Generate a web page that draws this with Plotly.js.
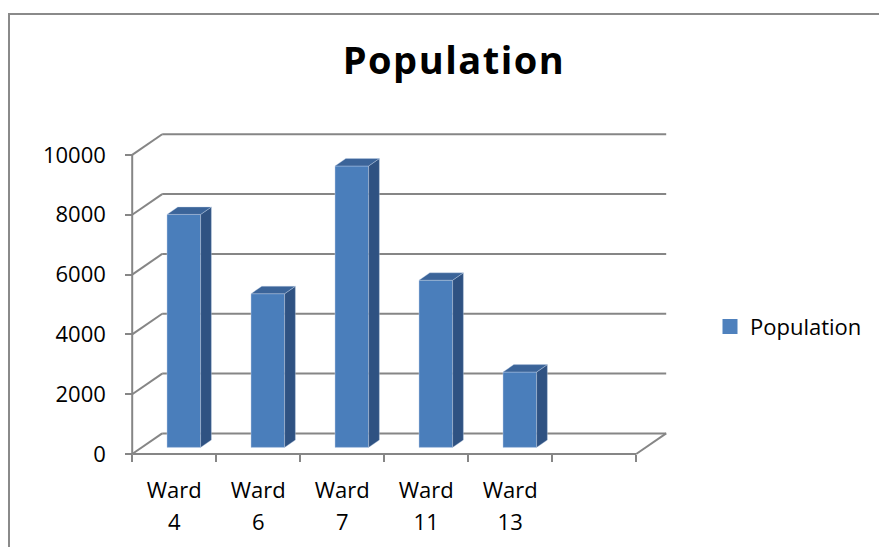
<!DOCTYPE html>
<html>
<head>
<meta charset="utf-8">
<script src="https://cdn.plot.ly/plotly-3.0.1.min.js"></script>
<style>
  html, body { margin: 0; padding: 0; background: #fff; overflow: hidden; }
  #chart { width: 879px; height: 547px; }
  #frame {
    position: absolute; left: 8px; top: 13px; width: 900px; height: 600px;
    border-left: 2px solid #8a8a8a; border-top: 2px solid #8a8a8a;
    pointer-events: none;
  }
  #chart .gtitle { letter-spacing: 1.5px; }
</style>
</head>
<body>
<div id="chart"></div>
<div id="frame"></div>
<script>
// Chart data
const categories = ['Ward 4', 'Ward 6', 'Ward 7', 'Ward 11', 'Ward 13'];
const population = [7790, 5140, 9410, 5590, 2520];
const yTicks = [0, 2000, 4000, 6000, 8000, 10000];
const seriesName = 'Population';
const slotCount = 6;            // category slots along the floor (last one empty)

// Oblique 3-D look: how far the back wall sits from the front plane (data units)
const DEPTH_X = 0.357;
const DEPTH_Y = 690;
const BAR_W = 0.4;              // column width, in category units
const BAR_FRONT = 0.32;         // depth fraction of the column front face
const BAR_DEPTH = 0.36;         // depth fraction occupied by the column

const FRONT = '#4a7ebb', SIDE = '#2f5282', TOP = '#3b6499';
const EDGE = 'rgba(196,212,234,0.75)';
const GRID = '#868686';
const FONT = 'Open Sans';

// frame of the 3-D box: back-wall gridlines, side-wall diagonals, floor and front axes
const shapes = [];
function seg(x0, y0, x1, y1) {
  shapes.push({type: 'line', xref: 'x', yref: 'y', layer: 'below',
    x0: x0, y0: y0, x1: x1, y1: y1, line: {color: GRID, width: 2}});
}
yTicks.forEach(v => {
  seg(DEPTH_X, v + DEPTH_Y, slotCount + DEPTH_X, v + DEPTH_Y);
  seg(0, v, DEPTH_X, v + DEPTH_Y);
});
const yMax = yTicks[yTicks.length - 1];
seg(0, 0, 0, yMax);
seg(0, 0, slotCount, 0);
seg(slotCount, 0, slotCount + DEPTH_X, DEPTH_Y);

// column geometry
const base = BAR_FRONT * DEPTH_Y;
const frontX = population.map((v, i) => i + 0.5 + BAR_FRONT * DEPTH_X);
const dx = BAR_DEPTH * DEPTH_X, dy = BAR_DEPTH * DEPTH_Y;

const sideX = [], sideY = [], topX = [], topY = [];
population.forEach((v, i) => {
  const xr = frontX[i] + BAR_W / 2, xl = frontX[i] - BAR_W / 2;
  const t = base + v;
  sideX.push(xr, xr + dx, xr + dx, xr, xr, null);
  sideY.push(base, base + dy, t + dy, t, base, null);
  topX.push(xl, xr, xr + dx, xl + dx, xl, null);
  topY.push(t, t, t + dy, t + dy, t, null);
});

const traces = [
  {type: 'bar', x: frontX, y: population, base: base, width: BAR_W,
   marker: {color: FRONT, line: {color: EDGE, width: 0.6}},
   showlegend: false, hoverinfo: 'skip'},
  {type: 'scatter', mode: 'lines', x: sideX, y: sideY, fill: 'toself',
   fillcolor: SIDE, line: {color: EDGE, width: 0.5}, showlegend: false, hoverinfo: 'skip'},
  {type: 'scatter', mode: 'lines', x: topX, y: topY, fill: 'toself',
   fillcolor: TOP, line: {color: EDGE, width: 0.5}, showlegend: false, hoverinfo: 'skip'},
  {type: 'scatter', mode: 'markers', x: [null], y: [null], name: seriesName,
   marker: {symbol: 'square', size: 15, color: '#4f81bd'}, hoverinfo: 'skip'},
  // empty traces that bring the two label rows (x2, x3) into the plot
  {type: 'scatter', mode: 'markers', x: [null], y: [null], xaxis: 'x2', yaxis: 'y',
   showlegend: false, hoverinfo: 'skip'},
  {type: 'scatter', mode: 'markers', x: [null], y: [null], xaxis: 'x3', yaxis: 'y',
   showlegend: false, hoverinfo: 'skip'}
];

const slotTicks = Array.from({length: slotCount + 1}, (_, i) => i);
const centers = categories.map((c, i) => i + 0.5);
const line1 = categories.map(c => c.split(' ')[0]);
const line2 = categories.map(c => c.split(' ')[1]);

const xRange = [-0.05, slotCount + 0.45];
const yRange = [-200, 10800];
const tickFont = {family: FONT, size: 22, color: '#000'};

const layout = {
  width: 879, height: 547,
  margin: {l: 127.8, r: 204.7, t: 130.9, b: 87, autoexpand: false},
  paper_bgcolor: 'rgba(0,0,0,0)', plot_bgcolor: 'rgba(0,0,0,0)',
  showlegend: true,
  title: {text: seriesName, font: {family: FONT, size: 38, weight: 700, color: '#000'},
    xref: 'container', yref: 'container', x: 0.5165, y: 0.8898,
    xanchor: 'center', yanchor: 'middle'},
  xaxis: {range: xRange, anchor: 'free', position: (0 - yRange[0]) / (yRange[1] - yRange[0]),
    tickmode: 'array', tickvals: slotTicks, ticks: 'outside', ticklen: 7, tickwidth: 2,
    tickcolor: GRID, showticklabels: false, showgrid: false, zeroline: false,
    showline: false, fixedrange: true},
  xaxis2: {overlaying: 'x', anchor: 'y', side: 'bottom', range: xRange,
    tickmode: 'array', tickvals: centers, ticktext: line1, ticks: '',
    tickfont: tickFont, ticklabelstandoff: 15, showgrid: false, zeroline: false,
    showline: false, fixedrange: true},
  xaxis3: {overlaying: 'x', anchor: 'y', side: 'bottom', range: xRange,
    tickmode: 'array', tickvals: centers, ticktext: line2, ticks: '',
    tickfont: tickFont, ticklabelstandoff: 47, showgrid: false, zeroline: false,
    showline: false, fixedrange: true},
  yaxis: {range: yRange, anchor: 'free', position: (0 - xRange[0]) / (xRange[1] - xRange[0]),
    tickmode: 'array', tickvals: yTicks, tickformat: 'd', ticks: 'outside', ticklen: 7,
    tickwidth: 2, tickcolor: GRID, ticklabelstandoff: 15, tickfont: tickFont,
    showgrid: false, zeroline: false, showline: false, fixedrange: true},
  legend: {xref: 'container', yref: 'container', x: 710 / 879, y: 1 - 326.8 / 547,
    xanchor: 'left', yanchor: 'middle', font: {family: FONT, size: 22, color: '#000'},
    bgcolor: 'rgba(0,0,0,0)', borderwidth: 0},
  shapes: shapes
};

Plotly.newPlot('chart', traces, layout, {staticPlot: true, displayModeBar: false});
</script>
</body>
</html>
